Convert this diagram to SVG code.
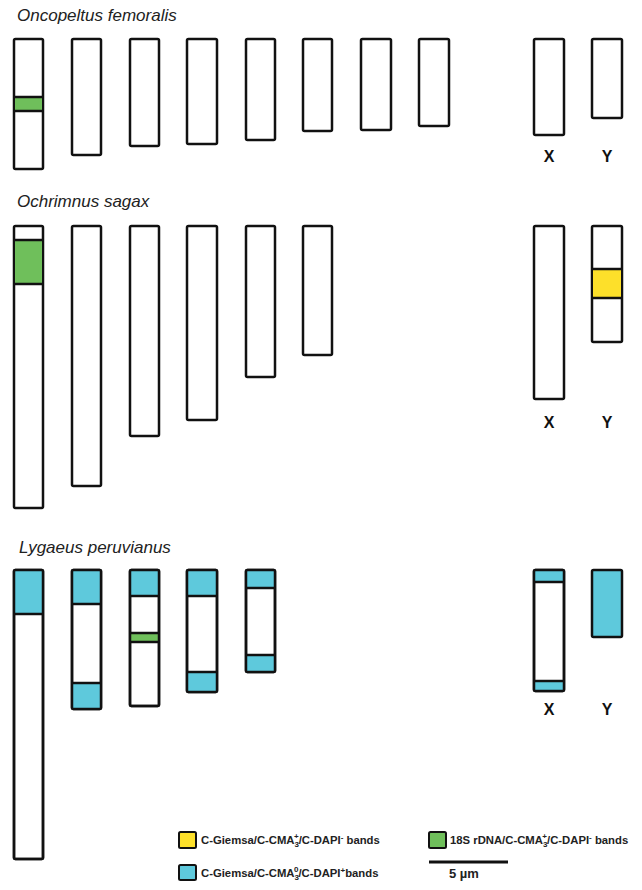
<svg xmlns="http://www.w3.org/2000/svg" width="642" height="890" viewBox="0 0 642 890">
<style>
.chr{fill:#fff;stroke:#111;stroke-width:2.5}
.g{fill:#6fbf5b}
.y{fill:#fde02a}
.c{fill:#5ec9dc}
.ln{stroke:#111;stroke-width:2.5}
.title{font-family:"Liberation Sans",Arial,sans-serif;font-style:italic;font-size:17px;fill:#222}
.lab{font-family:"Liberation Sans",Arial,sans-serif;font-weight:bold;font-size:16px;fill:#111;text-anchor:middle}
.leg{font-family:"Liberation Sans",Arial,sans-serif;font-weight:bold;font-size:11.3px;fill:#222}
.sw{stroke:#111;stroke-width:2}
</style>
<rect width="642" height="890" fill="#fff"/>

<g id="oncopeltus">
<text class="title" x="17" y="21">Oncopeltus femoralis</text>
<g id="of1"><rect class="chr" x="14" y="39" width="29" height="130" rx="1.5"/><rect class="g" x="15" y="97" width="27" height="14"/><line class="ln" x1="14" y1="97" x2="43" y2="97"/><line class="ln" x1="14" y1="111" x2="43" y2="111"/></g>
<g id="of2"><rect class="chr" x="72" y="39" width="29" height="116" rx="1.5"/></g>
<g id="of3"><rect class="chr" x="130" y="39" width="29" height="107" rx="1.5"/></g>
<g id="of4"><rect class="chr" x="187" y="39" width="30" height="105" rx="1.5"/></g>
<g id="of5"><rect class="chr" x="246" y="39" width="29" height="101" rx="1.5"/></g>
<g id="of6"><rect class="chr" x="303" y="39" width="29" height="92" rx="1.5"/></g>
<g id="of7"><rect class="chr" x="361" y="39" width="30" height="91" rx="1.5"/></g>
<g id="of8"><rect class="chr" x="419" y="39" width="30" height="87" rx="1.5"/></g>
<g id="ofX"><rect class="chr" x="534" y="39" width="30" height="96" rx="1.5"/><text class="lab" x="549" y="162">X</text></g>
<g id="ofY"><rect class="chr" x="592" y="39" width="30" height="79" rx="1.5"/><text class="lab" x="607" y="162">Y</text></g>
</g>

<g id="ochrimnus">
<text class="title" x="17" y="207">Ochrimnus sagax</text>
<g id="os1"><rect class="chr" x="14" y="226" width="29" height="282" rx="1.5"/><rect class="g" x="15" y="240" width="27" height="44"/><line class="ln" x1="14" y1="240" x2="43" y2="240"/><line class="ln" x1="14" y1="284" x2="43" y2="284"/></g>
<g id="os2"><rect class="chr" x="72" y="226" width="29" height="260" rx="1.5"/></g>
<g id="os3"><rect class="chr" x="130" y="226" width="29" height="210" rx="1.5"/></g>
<g id="os4"><rect class="chr" x="187" y="226" width="30" height="194" rx="1.5"/></g>
<g id="os5"><rect class="chr" x="246" y="226" width="29" height="151" rx="1.5"/></g>
<g id="os6"><rect class="chr" x="303" y="226" width="29" height="129" rx="1.5"/></g>
<g id="osX"><rect class="chr" x="534" y="226" width="30" height="173" rx="1.5"/><text class="lab" x="549" y="428">X</text></g>
<g id="osY"><rect class="chr" x="592" y="226" width="30" height="116" rx="1.5"/><rect class="y" x="593" y="269" width="28" height="29"/><line class="ln" x1="592" y1="269" x2="622" y2="269"/><line class="ln" x1="592" y1="298" x2="622" y2="298"/><text class="lab" x="607" y="428">Y</text></g>
</g>

<g id="lygaeus">
<text class="title" x="19" y="553">Lygaeus peruvianus</text>
<g id="lp1"><rect class="chr" x="14" y="570" width="29" height="289" rx="1.5"/><rect class="c" x="15" y="571" width="27" height="43"/><line class="ln" x1="14" y1="614" x2="43" y2="614"/><rect fill="none" stroke="#111" stroke-width="2.5" x="14" y="570" width="29" height="289" rx="1.5"/></g>
<g id="lp2"><rect class="chr" x="72" y="570" width="29" height="139" rx="1.5"/><rect class="c" x="73" y="571" width="27" height="33"/><rect class="c" x="73" y="683" width="27" height="25"/><line class="ln" x1="72" y1="604" x2="101" y2="604"/><line class="ln" x1="72" y1="683" x2="101" y2="683"/><rect fill="none" stroke="#111" stroke-width="2.5" x="72" y="570" width="29" height="139" rx="1.5"/></g>
<g id="lp3"><rect class="chr" x="130" y="570" width="29" height="136" rx="1.5"/><rect class="c" x="131" y="571" width="27" height="25"/><rect class="g" x="131" y="633" width="27" height="9"/><line class="ln" x1="130" y1="596" x2="159" y2="596"/><line class="ln" x1="130" y1="633" x2="159" y2="633"/><line class="ln" x1="130" y1="642" x2="159" y2="642"/><rect fill="none" stroke="#111" stroke-width="2.5" x="130" y="570" width="29" height="136" rx="1.5"/></g>
<g id="lp4"><rect class="chr" x="187" y="570" width="30" height="122" rx="1.5"/><rect class="c" x="188" y="571" width="28" height="25"/><rect class="c" x="188" y="672" width="28" height="19"/><line class="ln" x1="187" y1="596" x2="217" y2="596"/><line class="ln" x1="187" y1="672" x2="217" y2="672"/><rect fill="none" stroke="#111" stroke-width="2.5" x="187" y="570" width="30" height="122" rx="1.5"/></g>
<g id="lp5"><rect class="chr" x="246" y="570" width="29" height="102" rx="1.5"/><rect class="c" x="247" y="571" width="27" height="17"/><rect class="c" x="247" y="655" width="27" height="16"/><line class="ln" x1="246" y1="588" x2="275" y2="588"/><line class="ln" x1="246" y1="655" x2="275" y2="655"/><rect fill="none" stroke="#111" stroke-width="2.5" x="246" y="570" width="29" height="102" rx="1.5"/></g>
<g id="lpX"><rect class="chr" x="534" y="570" width="30" height="121" rx="1.5"/><rect class="c" x="535" y="571" width="28" height="11"/><rect class="c" x="535" y="681" width="28" height="9"/><line class="ln" x1="534" y1="582" x2="564" y2="582"/><line class="ln" x1="534" y1="681" x2="564" y2="681"/><rect fill="none" stroke="#111" stroke-width="2.5" x="534" y="570" width="30" height="121" rx="1.5"/><text class="lab" x="549" y="715">X</text></g>
<g id="lpY"><rect class="chr" x="592" y="570" width="30" height="67" rx="1.5" style="fill:#5ec9dc"/><text class="lab" x="607" y="715">Y</text></g>
</g>

<g id="legend">
<rect class="y sw" x="179" y="832" width="17" height="16" rx="1.5"/>
<text class="leg" x="201" y="844">C-Giemsa/C-CMA<tspan font-size="8" dy="3">3</tspan><tspan font-size="8" dx="-5" dy="-8">+</tspan><tspan dy="5">/C-DAPI</tspan><tspan font-size="8" dy="-4">-</tspan><tspan dy="4"> bands</tspan></text>
<rect class="c sw" x="179" y="865" width="17" height="15" rx="1.5"/>
<text class="leg" x="201" y="877">C-Giemsa/C-CMA<tspan font-size="8" dy="3">3</tspan><tspan font-size="8" dx="-5" dy="-8">0</tspan><tspan dy="5">/C-DAPI</tspan><tspan font-size="8" dy="-4">+</tspan><tspan dy="4">bands</tspan></text>
<rect class="g sw" x="429" y="832" width="17" height="16" rx="1.5"/>
<text class="leg" x="450" y="844">18S rDNA/C-CMA<tspan font-size="8" dy="3">3</tspan><tspan font-size="8" dx="-5" dy="-8">+</tspan><tspan dy="5">/C-DAPI</tspan><tspan font-size="8" dy="-4">-</tspan><tspan dy="4"> bands</tspan></text>
<line x1="429" y1="862" x2="508" y2="862" stroke="#111" stroke-width="3"/>
<text class="leg" x="449" y="878" style="font-size:13px">5 µm</text>
</g>
</svg>
